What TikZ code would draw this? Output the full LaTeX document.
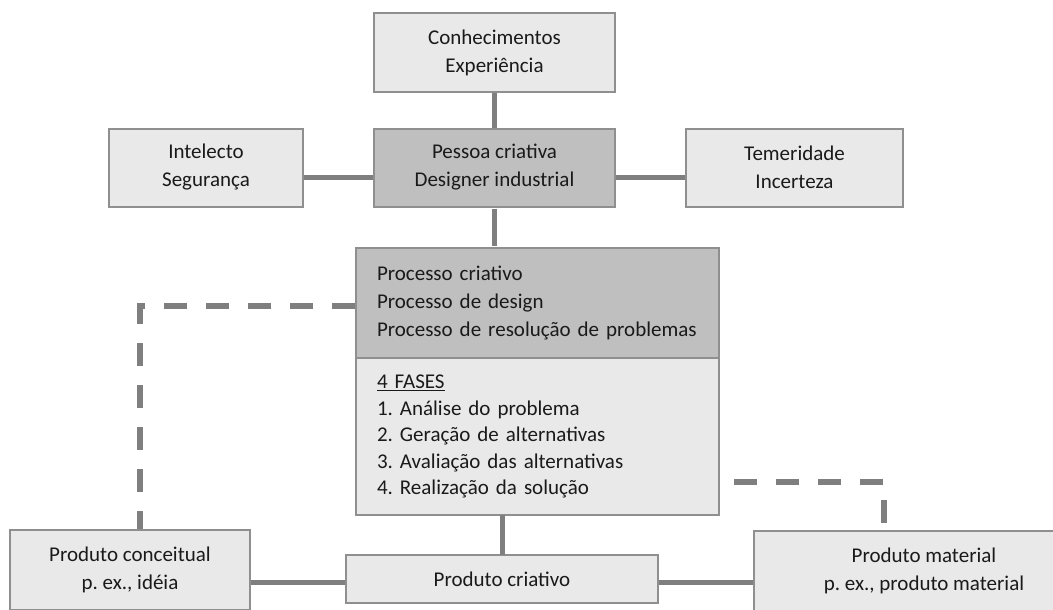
\documentclass[tikz,border=0pt]{standalone}
\usepackage{fontspec}
\setmainfont{Carlito}
\frenchspacing
\usetikzlibrary{positioning}
\definecolor{lightbox}{HTML}{E9E9E9}
\definecolor{darkbox}{HTML}{BFBFBF}
\definecolor{boxline}{HTML}{8F8F8F}
\definecolor{conn}{HTML}{7F7F7F}
\definecolor{txt}{HTML}{1A1A1A}
\tikzset{
  box/.style={draw=boxline, line width=2pt, fill=lightbox, inner sep=0pt,
    text=txt, align=center, font=\fontsize{21}{28}\selectfont},
  darkbx/.style={box, fill=darkbox},
  link/.style={draw=conn, line width=5pt},
  dashlink/.style={draw=conn, line width=5.5pt, dash pattern=on 23pt off 19pt},
}
\begin{document}
\begin{tikzpicture}[x=1pt,y=-1pt]
\useasboundingbox (0,0) rectangle (1053,610);
\clip (0,0) rectangle (1053,610);
\node[box, minimum width=241pt, minimum height=79pt] (know) at (494.5,52.5) {Conhecimentos\\Experiência};
\node[darkbx, minimum width=241pt, minimum height=78pt] (person) at (494.5,167.5) {Pessoa criativa\\Designer industrial};
\node[box, minimum width=194pt, minimum height=78pt] (intel) at (206,167.5) {Intelecto\\Segurança};
\node[box, minimum width=217pt, minimum height=78pt] (temer) at (794.5,167.5) {Temeridade\\Incerteza};
\node[darkbx, minimum width=363pt, minimum height=110pt, text width=321pt, align=left] (procA) at (537.5,303) {Processo criativo\\Processo de design\\Processo de resolução de problemas};
\node[box, minimum width=363pt, minimum height=157pt, text width=321pt, align=left, font=\fontsize{21}{26.5}\selectfont] (procB) at (537.5,436.5) {\underline{4 FASES}\\1. Análise do problema\\2. Geração de alternativas\\3. Avaliação das alternativas\\4. Realização da solução};
\node[box, minimum width=312pt, minimum height=48pt] (criativo) at (502,579) {Produto criativo};
\node[box, minimum width=240pt, minimum height=80pt] (conceitual) at (130,570) {Produto conceitual\\p. ex., idéia};
\node[box, minimum width=340pt, minimum height=80pt] (material) at (924,571) {Produto material\\p. ex., produto material};
% solid connectors
\draw[link] (know.south) -- (person.north);
\draw[link] ([yshift=-9.5pt]intel.east) -- ([yshift=-9.5pt]person.west);
\draw[link] ([yshift=-9.5pt]person.east) -- ([yshift=-9.5pt]temer.west);
\draw[link] ([yshift=-1pt]person.south) -- ([yshift=1pt]person.south |- procA.north);
\draw[link] ([yshift=1pt]criativo.north |- procB.south) -- ([yshift=-1pt]criativo.north);
\draw[link] ([yshift=-3pt]conceitual.east |- criativo.west) -- ([yshift=-3pt]criativo.west);
\draw[link] ([yshift=-3pt]criativo.east) -- ([yshift=-3pt]criativo.east -| material.west);
% dashed connectors
\draw[dashlink] ([yshift=-3pt]procA.west) -| ([xshift=10pt]conceitual.north);
\draw[dashlink, dash phase=28pt] ([yshift=-45.5pt]procB.east) -| ([xshift=-40pt]material.north);
\end{tikzpicture}
\end{document}
